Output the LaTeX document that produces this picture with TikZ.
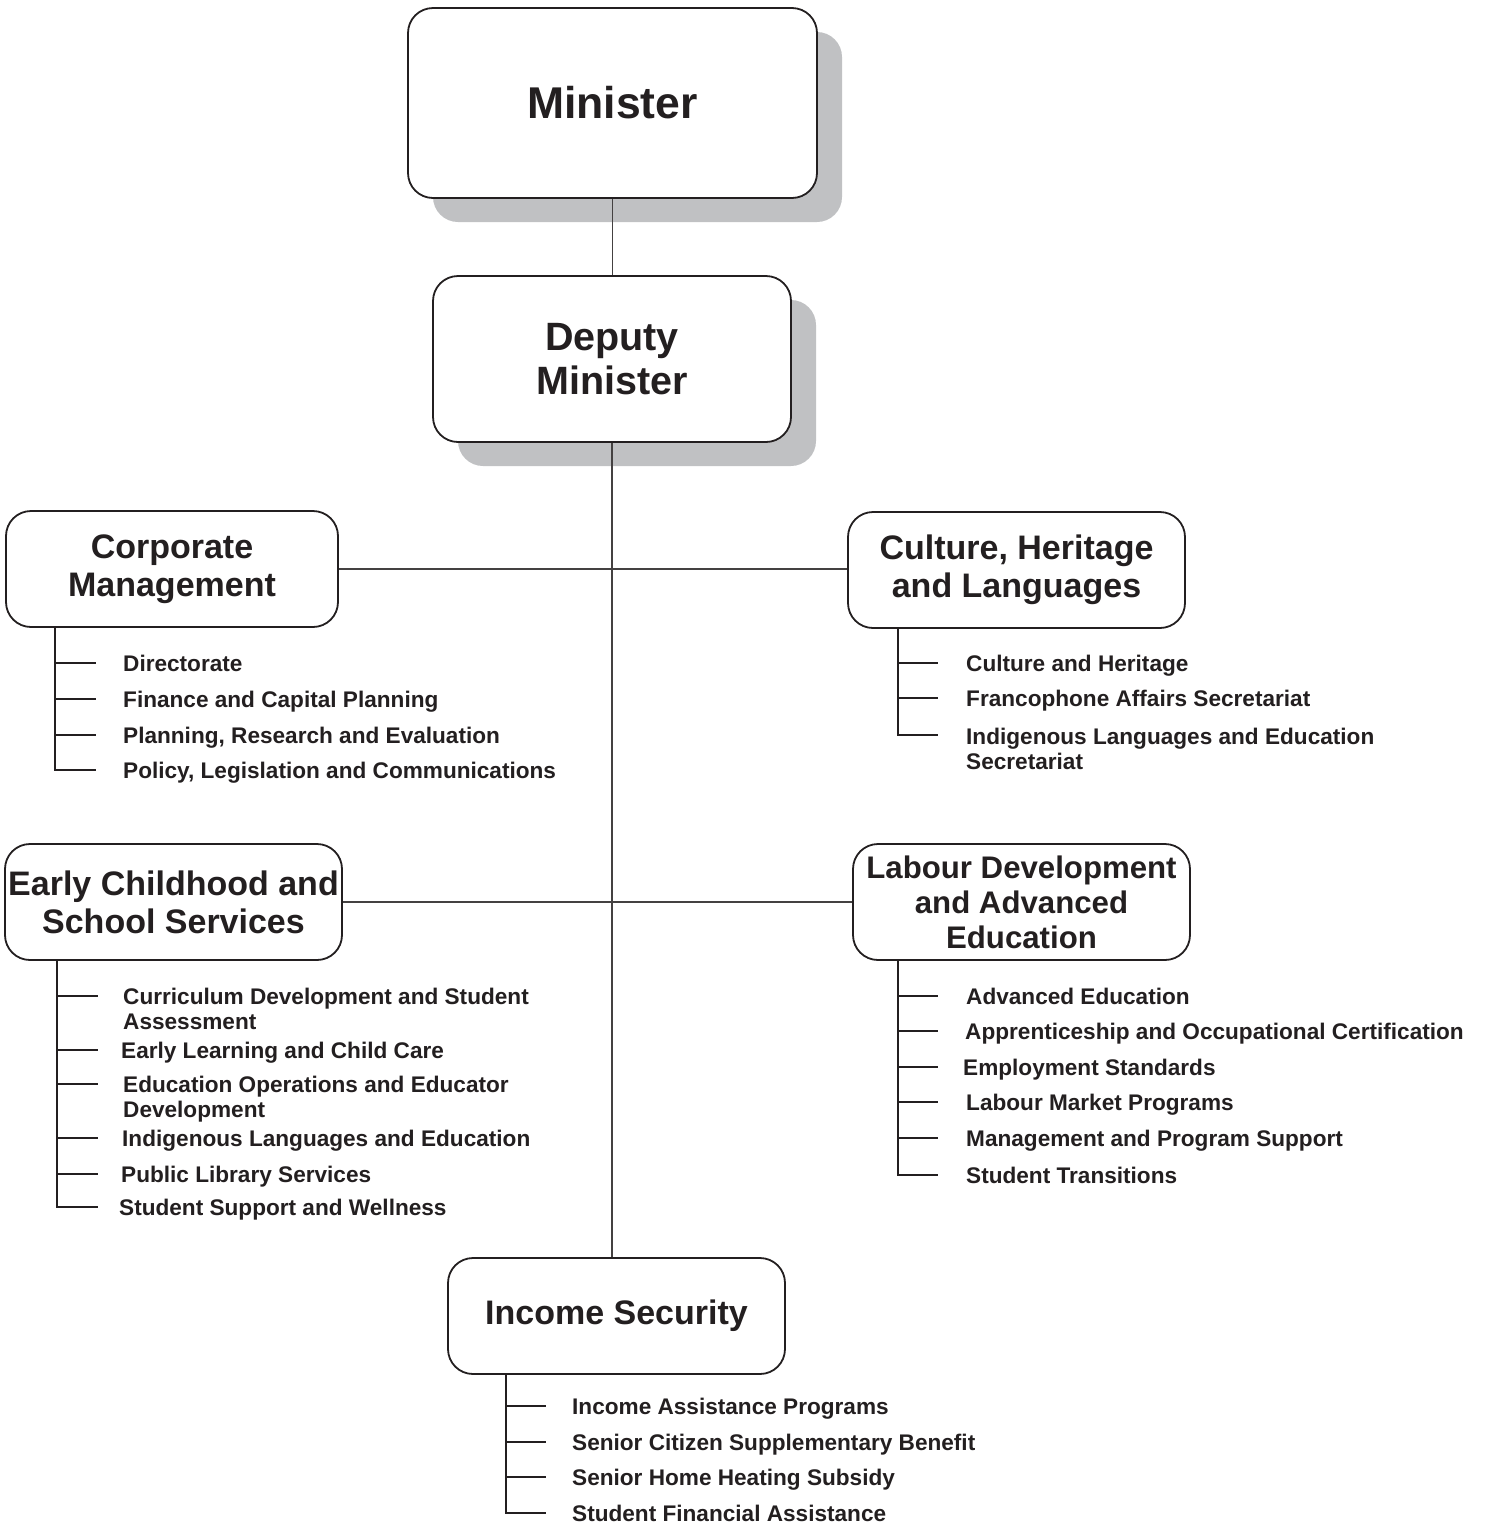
\documentclass[tikz,border=0pt]{standalone}
\usepackage{fontspec}
\setmainfont{Liberation Sans}
\usetikzlibrary{shadows}
\definecolor{ink}{RGB}{35,31,32}
\definecolor{shade}{RGB}{192,193,195}
\tikzset{
  unit/.style={draw=ink, line width=1.8pt, rounded corners=25pt, fill=white,
    text=ink, align=center, inner sep=0pt},
  raised/.style={drop shadow={shadow xshift=25pt, shadow yshift=-24pt,
    fill=shade, opacity=1}},
  midfont/.style={font=\fontsize{34}{38}\selectfont\bfseries},
  item/.style={anchor=north west, inner sep=0pt, text=ink, align=left,
    font=\fontsize{22.6}{25}\selectfont\bfseries},
  link/.style={draw=ink!85, line width=1.2pt},
  spine/.style={draw=ink, line width=1.6pt},
}
\begin{document}
\begin{tikzpicture}[x=1pt,y=-1pt]
\useasboundingbox (0,0) rectangle (1484,1524);

% ---- senior offices ----
\node[unit, raised, minimum width=409pt, minimum height=190pt,
  font=\fontsize{44.5}{48}\selectfont\bfseries] (min) at (612.5,103) {Minister};
\node[unit, raised, minimum width=358pt, minimum height=166pt,
  font=\fontsize{39.5}{44}\selectfont\bfseries] (dep) at (612,359) {Deputy\\Minister};

% ---- divisions ----
\node[unit, midfont, minimum width=332pt, minimum height=116pt] (corp) at (172,569)
  {Corporate\\Management};
\node[unit, midfont, minimum width=337pt, minimum height=116pt] (cult) at (1016.5,570)
  {Culture, Heritage\\and Languages};
\node[unit, midfont, minimum width=337pt, minimum height=116pt] (early) at (173.5,902)
  {Early Childhood and\\School Services};
\node[unit, minimum width=337pt, minimum height=116pt,
  font=\fontsize{31.2}{35}\selectfont\bfseries] (lab) at (1021.5,902)
  {Labour Development\\and Advanced\\Education};
\node[unit, midfont, minimum width=337pt, minimum height=116pt] (inc) at (616.5,1316)
  {Income Security};

% ---- reporting lines ----
\draw[link] (min.south) -- (min.south |- dep.north);
\draw[link] (dep.south) -- (dep.south |- inc.north);
\draw[link] (corp.east) -- (corp.east -| cult.west);
\draw[link] (early.east) -- (early.east -| lab.west);

% ---- Corporate Management branches ----
\coordinate (cpS) at ([xshift=50pt]corp.south west);
\coordinate (cp1t) at (96,663);
\coordinate (cp2t) at (96,699);
\coordinate (cp3t) at (96,735);
\coordinate (cp4t) at (96,770);
\node[item] (cp1) at (123,655) {Directorate};
\node[item] (cp2) at (123,691) {Finance and Capital Planning};
\node[item] (cp3) at (123,727) {Planning, Research and Evaluation};
\node[item] (cp4) at (123,762) {Policy, Legislation and Communications};
\draw[spine] (cpS) |- (cp4t);
\foreach \t in {cp1t,cp2t,cp3t} \draw[spine] (cpS |- \t) -- (\t);

% ---- Culture, Heritage and Languages branches ----
\coordinate (chS) at ([xshift=51pt]cult.south west);
\coordinate (ch1t) at (938,663);
\coordinate (ch2t) at (938,698);
\coordinate (ch3t) at (938,735);
\node[item] (ch1) at (966,655) {Culture and Heritage};
\node[item] (ch2) at (966,690) {Francophone Affairs Secretariat};
\node[item] (ch3) at (966,728) {Indigenous Languages and Education\\Secretariat};
\draw[spine] (chS) |- (ch3t);
\foreach \t in {ch1t,ch2t} \draw[spine] (chS |- \t) -- (\t);

% ---- Early Childhood and School Services branches ----
\coordinate (ecS) at ([xshift=53pt]early.south west);
\coordinate (ec1t) at (98,996);
\coordinate (ec2t) at (98,1050);
\coordinate (ec3t) at (98,1084);
\coordinate (ec4t) at (98,1138);
\coordinate (ec5t) at (98,1174);
\coordinate (ec6t) at (98,1207);
\node[item] (ec1) at (123,988) {Curriculum Development and Student\\Assessment};
\node[item] (ec2) at (121,1042) {Early Learning and Child Care};
\node[item] (ec3) at (123,1076) {Education Operations and Educator\\Development};
\node[item] (ec4) at (122,1130) {Indigenous Languages and Education};
\node[item] (ec5) at (121,1166) {Public Library Services};
\node[item] (ec6) at (119,1199) {Student Support and Wellness};
\draw[spine] (ecS) |- (ec6t);
\foreach \t in {ec1t,ec2t,ec3t,ec4t,ec5t} \draw[spine] (ecS |- \t) -- (\t);

% ---- Labour Development and Advanced Education branches ----
\coordinate (ldS) at ([xshift=46pt]lab.south west);
\coordinate (ld1t) at (938,996);
\coordinate (ld2t) at (938,1031);
\coordinate (ld3t) at (938,1067);
\coordinate (ld4t) at (938,1102);
\coordinate (ld5t) at (938,1138);
\coordinate (ld6t) at (938,1175);
\node[item] (ld1) at (966,988) {Advanced Education};
\node[item] (ld2) at (965,1023) {Apprenticeship and Occupational Certification};
\node[item] (ld3) at (963,1059) {Employment Standards};
\node[item] (ld4) at (966,1094) {Labour Market Programs};
\node[item] (ld5) at (966,1130) {Management and Program Support};
\node[item] (ld6) at (966,1167) {Student Transitions};
\draw[spine] (ldS) |- (ld6t);
\foreach \t in {ld1t,ld2t,ld3t,ld4t,ld5t} \draw[spine] (ldS |- \t) -- (\t);

% ---- Income Security branches ----
\coordinate (isS) at ([xshift=59pt]inc.south west);
\coordinate (is1t) at (546,1406);
\coordinate (is2t) at (546,1442);
\coordinate (is3t) at (546,1477);
\coordinate (is4t) at (546,1513);
\node[item] (is1) at (572,1398) {Income Assistance Programs};
\node[item] (is2) at (572,1434) {Senior Citizen Supplementary Benefit};
\node[item] (is3) at (572,1469) {Senior Home Heating Subsidy};
\node[item] (is4) at (572,1505) {Student Financial Assistance};
\draw[spine] (isS) |- (is4t);
\foreach \t in {is1t,is2t,is3t} \draw[spine] (isS |- \t) -- (\t);
\end{tikzpicture}
\end{document}
